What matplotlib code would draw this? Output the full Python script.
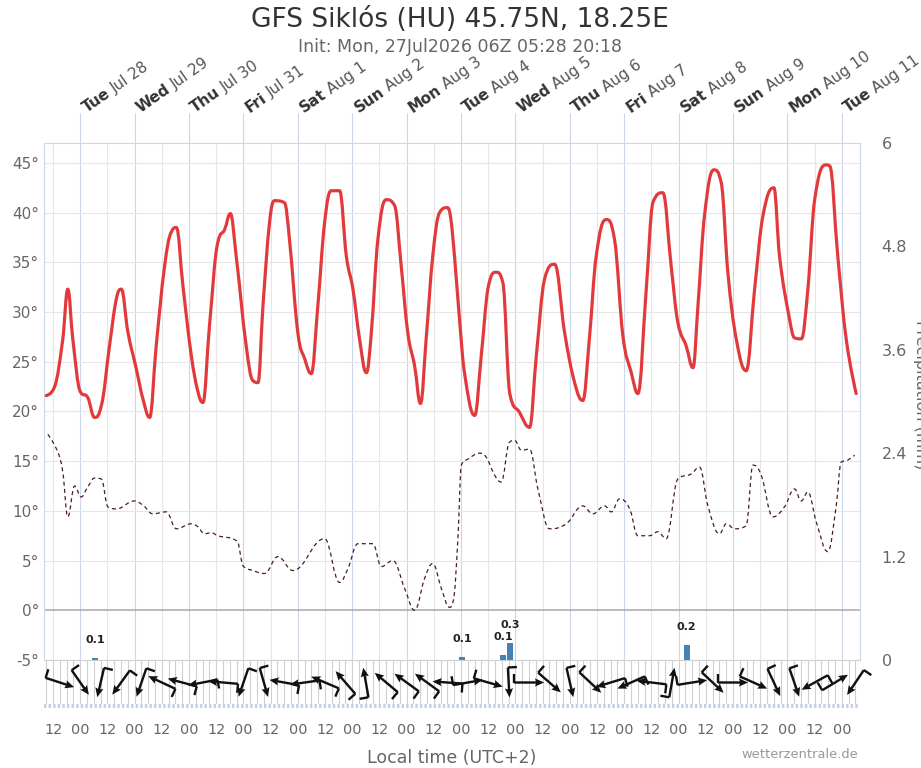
import matplotlib
matplotlib.use('Agg')
import matplotlib.pyplot as plt
import numpy as np
from matplotlib.collections import LineCollection
from matplotlib.path import Path
from matplotlib.patches import PathPatch

plt.rcParams['font.family'] = ['DejaVu Sans']

# ---------------- data (hours since Tue Jul 28 00:00 local) ----------------
temp_hours = [-15, -11.3, -7.7, -5.5, -3.3, 0, 3.3, 6.3, 9.3, 12.9, 15.9, 18.1, 21, 24.7, 27.6,
              30.6, 33.5, 37.2, 40.1, 42.4, 45.3, 49, 51.9, 54.1, 57, 60.7, 63.7, 66.2, 68.8,
              73.2, 76.2, 78.4, 80.6, 83.5, 85.7, 90.1, 92.3, 96, 99, 101.9, 104.8, 107.8,
              110.7, 114.4, 117.4, 120.3, 123.2, 126.2, 128.4, 131.3, 135, 138.7, 141.6, 144.5,
              147.5, 150.1, 152.6, 155.5, 158.5, 161.9, 163.4, 165.1, 167.3, 169.5, 174, 176.9,
              179.8, 183.5, 186.4, 189.4, 193.8, 198.2, 201.2, 204.8, 209.3, 213.7, 218.1,
              221.7, 224.6, 227.6, 232, 235.7, 239.4, 243.1, 246, 249.7, 252.6, 257, 260.7,
              263.6, 267.3, 270.3, 272.5, 275.4, 279.5, 282.8, 285.7, 289.4, 293.8, 297.5,
              301.2, 306, 308.5, 312.9, 315.1, 318.1, 321, 324, 329.1, 330.6, 334.2, 337.9, 342.3]
temp_values = [21.6, 22.5, 27.3, 32.3, 27.3, 22.0, 21.4, 19.4, 20.6, 26.6, 31.3, 32.3, 28.0, 24.3, 21.3,
               19.4, 26.6, 34.6, 38.0, 38.5, 32.6, 25.6, 22.0, 20.9, 28.6, 37.0, 38.3, 39.9, 35.6,
               26.6, 23.1, 22.9, 30.6, 39.0, 41.2, 41.0, 37.3, 27.9, 25.3, 23.8, 30.6, 39.0,
               42.2, 42.2, 35.6, 32.3, 27.3, 23.9, 27.9, 37.3, 41.3, 40.7, 34.6, 27.9,
               24.6, 20.8, 27.3, 35.6, 40.0, 40.5, 39.5, 35.6, 29.3, 23.9, 19.6, 25.6,
               32.3, 34.0, 33.0, 21.9, 19.9, 18.4, 25.6, 33.3, 34.8, 27.9, 22.9,
               21.1, 27.3, 35.6, 39.3, 37.3, 27.6, 23.9, 21.8, 32.3, 41.0, 42.0, 34.6,
               29.0, 26.6, 24.4, 30.6, 39.7, 44.3, 43.0, 34.0, 27.3, 24.1, 32.3,
               39.7, 42.5, 35.6, 29.3, 27.4, 27.3, 32.3, 41.3, 44.8, 44.7, 35.6, 27.3, 21.8]

dew_hours = [-14.3, -9.9, -7.7, -5.5, -2.5, 0.4, 3.3, 6.3, 9.3, 12.2, 15.9, 24, 28, 32, 37.9, 42.4,
             49, 51.9, 54.8, 57.8, 60.7, 69.5, 71.7, 76.2, 81.3, 87.2, 93.8, 107.8, 114.4, 118.1,
             122.5, 129.1, 132.8, 137.9, 143.1, 147.5, 151.9, 155.5, 159.3, 162.9, 164.6, 166.6,
             168.1, 171, 176.2, 179.1, 182.8, 185.7, 189.4, 191.6, 194.6, 198.2, 201.9, 207,
             214.4, 221.7, 226.1, 231.3, 234.3, 237.9, 242.4, 246, 251.2, 254.8, 258.5, 263.6,
             269.5, 273.2, 276.9, 282, 285, 288.7, 293.8, 296.8, 300.4, 305.6, 310.7, 315.1,
             318.1, 321, 324.7, 329.8, 333.5, 335.7, 338.6, 341.6]
dew_values = [17.7, 15.9, 13.9, 9.4, 12.5, 11.4, 12.4, 13.3, 13.2, 10.4, 10.2, 11.0, 10.5, 9.7, 9.9, 8.2,
              8.7, 8.4, 7.7, 7.8, 7.5, 6.9, 4.5, 4.0, 3.7, 5.4, 4.0, 7.2, 2.8, 4.2,
              6.7, 6.7, 4.4, 5.0, 2.2, 0.0, 3.2, 4.7, 2.2, 0.3, 1.0, 7.2,
              14.6, 15.2, 15.8, 15.4, 13.6, 12.9, 16.9, 17.1, 16.1, 16.2, 12.2, 8.2,
              8.7, 10.5, 9.7, 10.5, 9.9, 11.2, 10.2, 7.5, 7.5, 7.9, 7.2, 13.2,
              13.7, 14.4, 10.5, 7.7, 8.7, 8.2, 8.5, 14.6, 13.6, 9.4, 10.4, 12.2,
              11.0, 11.9, 8.9, 5.9, 10.5, 14.9, 15.1, 15.6]

precip_hours = [6.5, 168.5, 186.5, 189.5, 267.5]
precip_mm = [0.02, 0.035, 0.06, 0.2, 0.17]
precip_labels = ['0.1', '0.1', '0.1', '0.3', '0.2']

wind_hours = [-9, 0, 9, 18, 27, 36, 45, 54, 63, 72, 81, 90, 99, 108, 117, 126, 135, 144, 153, 162,
              171, 180, 189, 198, 207, 216, 225, 234, 243, 252, 261, 270, 279, 288, 297, 306,
              315, 324, 333, 342]
wind_from_deg = [288, 325, 13, 36, 19, 115, 105, 79, 95, 19, 344, 100, 82, 113, 139, 170, 130, 126,
                 126, 94, 260, 286, 357, 270, 311, 347, 313, 73, 66, 97, 190, 261, 313, 270, 294,
                 335, 341, 61, 239, 34]

day_hours = [0, 24, 48, 72, 96, 120, 144, 168, 192, 216, 240, 264, 288, 312, 336]
day_names = ['Tue', 'Wed', 'Thu', 'Fri', 'Sat', 'Sun', 'Mon', 'Tue', 'Wed', 'Thu', 'Fri', 'Sat',
             'Sun', 'Mon', 'Tue']
day_dates = ['Jul 28', 'Jul 29', 'Jul 30', 'Jul 31', 'Aug 1', 'Aug 2', 'Aug 3', 'Aug 4', 'Aug 5',
             'Aug 6', 'Aug 7', 'Aug 8', 'Aug 9', 'Aug 10', 'Aug 11']

temp_ticks = [-5, 0, 5, 10, 15, 20, 25, 30, 35, 40, 45]
precip_ticks = [0, 1.2, 2.4, 3.6, 4.8, 6]
precip_ticklabels = ['0', '1.2', '2.4', '3.6', '4.8', '6']

title = 'GFS Siklós (HU) 45.75N, 18.25E'
subtitle = 'Init: Mon, 27Jul2026 06Z 05:28 20:18'


def spline_path(xs, ys, smoothing=1.5):
    """Smooth curve through the given points (Highcharts-style spline, cubic Bezier)."""
    n = len(xs)
    denom = smoothing + 1
    lc = [None] * n
    rc = [None] * n
    for i in range(n):
        x, y = xs[i], ys[i]
        if i == 0 or i == n - 1:
            lc[i] = (x, y)
            rc[i] = (x, y)
            continue
        lx, ly = xs[i - 1], ys[i - 1]
        nx, ny = xs[i + 1], ys[i + 1]
        lcx = (smoothing * x + lx) / denom
        lcy = (smoothing * y + ly) / denom
        rcx = (smoothing * x + nx) / denom
        rcy = (smoothing * y + ny) / denom
        if rcx != lcx:
            corr = ((rcy - lcy) * (rcx - x)) / (rcx - lcx) + y - rcy
            lcy += corr
            rcy += corr
        if lcy > ly and lcy > y:
            lcy = max(ly, y)
            rcy = 2 * y - lcy
        elif lcy < ly and lcy < y:
            lcy = min(ly, y)
            rcy = 2 * y - lcy
        if rcy > ny and rcy > y:
            rcy = max(ny, y)
            lcy = 2 * y - rcy
        elif rcy < ny and rcy < y:
            rcy = min(ny, y)
            lcy = 2 * y - rcy
        lc[i] = (lcx, lcy)
        rc[i] = (rcx, rcy)
    verts = [(xs[0], ys[0])]
    codes = [Path.MOVETO]
    for i in range(1, n):
        verts += [rc[i - 1], lc[i], (xs[i], ys[i])]
        codes += [Path.CURVE4] * 3
    return Path(verts, codes)


# ---------------- layout ----------------
FW, FH, DPI = 921, 768, 100
L, R, T, B = 44, 860, 143, 660
SB = 705
X0, X1 = -16, 344

fig = plt.figure(figsize=(FW / DPI, FH / DPI), dpi=DPI)
fig.patch.set_facecolor('white')

ax = fig.add_axes([L / FW, 1 - B / FH, (R - L) / FW, (B - T) / FH])
ax2 = ax.twinx()
wax = fig.add_axes([L / FW, 1 - SB / FH, (R - L) / FW, (SB - B) / FH])

GRID = '#e6e6e6'
DAYC = '#ccd6eb'
LABC = '#666666'

ax.set_xlim(X0, X1)
ax.set_ylim(-5, 47)
ax2.set_ylim(0, 6)

for h in range(-12, X1, 12):
    ax.axvline(h, color=DAYC if h % 24 == 0 else GRID, lw=0.8, zorder=0)
for v in temp_ticks:
    if v == 0:
        ax.axhline(v, color='#a8a8a8', lw=1.1, zorder=1)
    else:
        ax.axhline(v, color=GRID, lw=0.8, zorder=0)

ax.vlines(day_hours, 1, 1 + 30 / (B - T), transform=ax.get_xaxis_transform(),
          colors=DAYC, lw=0.8, clip_on=False)

ax.add_patch(PathPatch(spline_path(dew_hours, dew_values), facecolor='none',
                       edgecolor='#4a1c1c', lw=0.9, linestyle=(0, (3.2, 2.6)), zorder=3))
ax.add_patch(PathPatch(spline_path(temp_hours, temp_values), facecolor='none',
                       edgecolor='#e23a3c', lw=2.3, joinstyle='round', capstyle='round',
                       zorder=4))

ax.set_yticks(temp_ticks)
ax.set_yticklabels([f'{v}°' for v in temp_ticks])
ax.tick_params(axis='y', length=0, pad=3.5, labelsize=11, labelcolor=LABC)
ax.tick_params(axis='x', bottom=False, labelbottom=False)
for s in ['left', 'top', 'right']:
    ax.spines[s].set_color(DAYC)
    ax.spines[s].set_linewidth(0.8)
ax.spines['bottom'].set_color('#d0d0d0')
ax.spines['bottom'].set_linewidth(0.8)

for s in ax2.spines.values():
    s.set_visible(False)
ax2.set_yticks(precip_ticks)
ax2.set_yticklabels(precip_ticklabels)
ax2.tick_params(axis='y', length=0, pad=15.5, labelsize=11.5, labelcolor=LABC)
ax2.bar(precip_hours, precip_mm, width=2.7, color='#4682b4', zorder=3)

# precipitation labels (shifted up when they would overlap)
prev = None
for t, v, lab in zip(precip_hours, precip_mm, precip_labels):
    xd, yd = ax2.transData.transform((t, v))
    bottom = yd + 13
    if prev is not None and abs(xd - prev[0]) < 20 and bottom < prev[1] + 2:
        bottom = prev[1] + 10
    fig.text(xd / FW, bottom / FH, lab, ha='center', va='bottom', fontsize=8,
             fontweight='bold', color='#222222')
    prev = (xd, bottom + 10)

fig.text(916 / FW, 1 - 395 / FH, 'Precipitation (mm)', rotation=270, rotation_mode='anchor',
         ha='center', va='baseline', fontsize=11.5, color=LABC)

# top day labels
renderer = fig.canvas.get_renderer()
ROT = 35
ang = np.deg2rad(ROT)
DX, DY = 4.5, 21.5
for h, dn, dd in zip(day_hours, day_names, day_dates):
    ax.annotate(dn, xy=(h, 1), xycoords=('data', 'axes fraction'), xytext=(DX, DY),
                textcoords='offset points', rotation=ROT, rotation_mode='anchor', ha='left',
                va='baseline', fontsize=11, fontweight='bold', color='#333333',
                annotation_clip=False)
    tmp = fig.text(0, 0, dn, fontsize=11, fontweight='bold')
    w = tmp.get_window_extent(renderer).width
    tmp.remove()
    wpt = (w + 4.5) * 72 / DPI
    ax.annotate(dd, xy=(h, 1), xycoords=('data', 'axes fraction'),
                xytext=(DX + wpt * np.cos(ang), DY + wpt * np.sin(ang)),
                textcoords='offset points', rotation=ROT, rotation_mode='anchor', ha='left',
                va='baseline', fontsize=11, color='#555555', annotation_clip=False)

# ---------------- wind strip ----------------
wax.set_xlim(X0, X1)
wax.set_ylim(0, SB - B)
wax.axis('off')
for h in range(-15, X1, 3):
    wax.plot([h, h], [2, SB - B], color='#d0d0d0', lw=0.8, zorder=1)
wax.plot([X0, X1 - 1], [-1.2, -1.2], color='#c8d1e4', lw=3.0, dashes=(0.6, 0.5),
         clip_on=False, zorder=1)

pxh = (R - L) / (X1 - X0)
a = np.deg2rad(270 - np.array(wind_from_deg, dtype=float))
Lpx = 30
U = Lpx * np.cos(a) / pxh
V = Lpx * np.sin(a)
yc = 22.5
wh = np.array(wind_hours, dtype=float)
wax.quiver(wh, np.full(len(wh), yc), U, V, angles='xy', scale_units='xy', scale=1,
           pivot='middle', width=2.4 / (R - L), headwidth=3.4, headlength=3.8,
           headaxislength=3.4, color='#111111', zorder=3, clip_on=False)
tx = wh - U / 2
ty = yc - V / 2
bx = tx + 9 * np.cos(a + np.pi / 2) / pxh
by = ty + 9 * np.sin(a + np.pi / 2)
segs = [[(x0, y0), (x1, y1)] for x0, y0, x1, y1 in zip(tx, ty, bx, by)]
wax.add_collection(LineCollection(segs, colors='#111111', linewidths=1.7, zorder=3,
                                  clip_on=False))

for h in range(-12, 337, 12):
    wax.text(h, (SB - 730) / (SB - B), '12' if h % 24 == 12 else '00',
             transform=wax.get_xaxis_transform(), ha='center', va='center',
             fontsize=10.4, color=LABC)

# ---------------- texts ----------------
fig.text(460 / FW, 1 - 20 / FH, title, ha='center', va='center', fontsize=19, color='#333333')
fig.text(460 / FW, 1 - 47 / FH, subtitle, ha='center', va='center', fontsize=12.5, color=LABC)
fig.text(452 / FW, 1 - 758 / FH, 'Local time (UTC+2)', ha='center', va='center',
         fontsize=12.5, color=LABC)
fig.text(858 / FW, 1 - 755 / FH, 'wetterzentrale.de', ha='right', va='center',
         fontsize=9.4, color='#999999')

fig.savefig('out.png', dpi=DPI, facecolor='white')
